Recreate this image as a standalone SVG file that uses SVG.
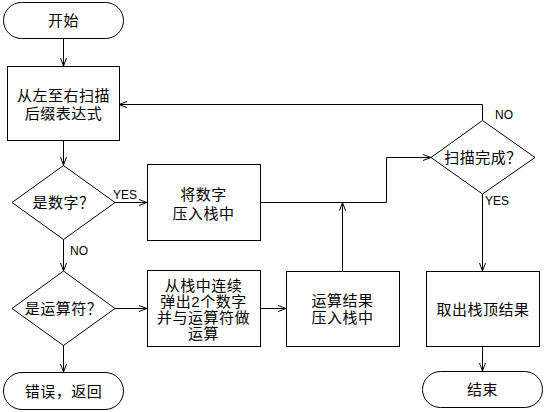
<svg xmlns="http://www.w3.org/2000/svg" width="544" height="412" viewBox="0 0 544 412">
<style>
.s{fill:#fff;stroke:#000;stroke-width:1}
.t{font-family:"Liberation Sans","Noto Sans CJK SC",sans-serif;font-size:15px;letter-spacing:0.5px;fill:#000;text-anchor:middle;dominant-baseline:central}
.l{font-family:"Liberation Sans",Arial,sans-serif;font-size:12px;fill:#000}
.c{fill:none;stroke:#000;stroke-width:1;marker-end:url(#a)}
.p{fill:none;stroke:#000;stroke-width:1}
</style>
<defs>
<marker id="a" viewBox="0 0 8 8" refX="8" refY="4" markerWidth="8" markerHeight="8" markerUnits="userSpaceOnUse" orient="auto">
<path d="M0,1 L8,4 L0,7" fill="none" stroke="#000" stroke-width="1"/>
</marker>
</defs>
<rect width="544" height="412" fill="#fff"/>
<g id="connectors">
<path class="c" d="M63.5,38 V66"/>
<path class="c" d="M63.5,141 V165"/>
<path class="c" d="M115,202.5 H147"/>
<path class="c" d="M63.5,239 V271"/>
<path class="c" d="M115,308.5 H147"/>
<path class="c" d="M63.5,345 V372"/>
<path class="c" d="M260,308.5 H286"/>
<path class="p" d="M260,202.5 H386.5 V157.5"/>
<path class="c" d="M386.5,157.5 H431"/>
<path class="c" d="M342.5,271 V202.5"/>
<path class="c" d="M482.5,120 V104.5 H119"/>
<path class="c" d="M482.5,194 V271"/>
<path class="c" d="M482.5,346 V371"/>
<text class="l" x="113" y="199">YES</text>
<text class="l" x="70" y="255">NO</text>
<text class="l" x="495" y="119">NO</text>
<text class="l" x="485" y="205">YES</text>
</g>
<g id="start">
<rect class="s" x="3.5" y="2.5" width="120" height="36" rx="18"/>
<text class="t" x="63.5" y="20.5">开始</text>
</g>
<g id="scan">
<rect class="s" x="7.5" y="66.5" width="112" height="74"/>
<text class="t" x="63.5" y="95">从左至右扫描</text>
<text class="t" x="63.5" y="113">后缀表达式</text>
</g>
<g id="isnum">
<path class="s" d="M63.5,165.5 L115,202.5 L63.5,239.5 L12,202.5 Z"/>
<text class="t" x="63.5" y="202.5">是数字？</text>
</g>
<g id="push">
<rect class="s" x="147.5" y="164.5" width="113" height="76"/>
<text class="t" x="203.5" y="194">将数字</text>
<text class="t" x="203.5" y="213">压入栈中</text>
</g>
<g id="isop">
<path class="s" d="M63.5,271 L115,308.5 L63.5,345.5 L12,308.5 Z"/>
<text class="t" x="63.5" y="308.5">是运算符？</text>
</g>
<g id="pop">
<rect class="s" x="147.5" y="270.5" width="113" height="76"/>
<text class="t" x="203.5" y="285">从栈中连续</text>
<text class="t" x="203.5" y="301">弹出2个数字</text>
<text class="t" x="203.5" y="317">并与运算符做</text>
<text class="t" x="203.5" y="333">运算</text>
</g>
<g id="pushres">
<rect class="s" x="286.5" y="271.5" width="113" height="75"/>
<text class="t" x="342.5" y="300">运算结果</text>
<text class="t" x="342.5" y="317">压入栈中</text>
</g>
<g id="done">
<path class="s" d="M482.5,120.5 L535,157.5 L482.5,194 L431,157.5 Z"/>
<text class="t" x="483" y="157.5">扫描完成？</text>
</g>
<g id="top">
<rect class="s" x="426.5" y="271.5" width="113" height="75"/>
<text class="t" x="483" y="309">取出栈顶结果</text>
</g>
<g id="error">
<rect class="s" x="3.5" y="372.5" width="120" height="37" rx="18.5"/>
<text class="t" x="63.5" y="391">错误，返回</text>
</g>
<g id="end">
<rect class="s" x="422.5" y="371.5" width="120" height="36" rx="18"/>
<text class="t" x="482.5" y="389.5">结束</text>
</g>
</svg>
